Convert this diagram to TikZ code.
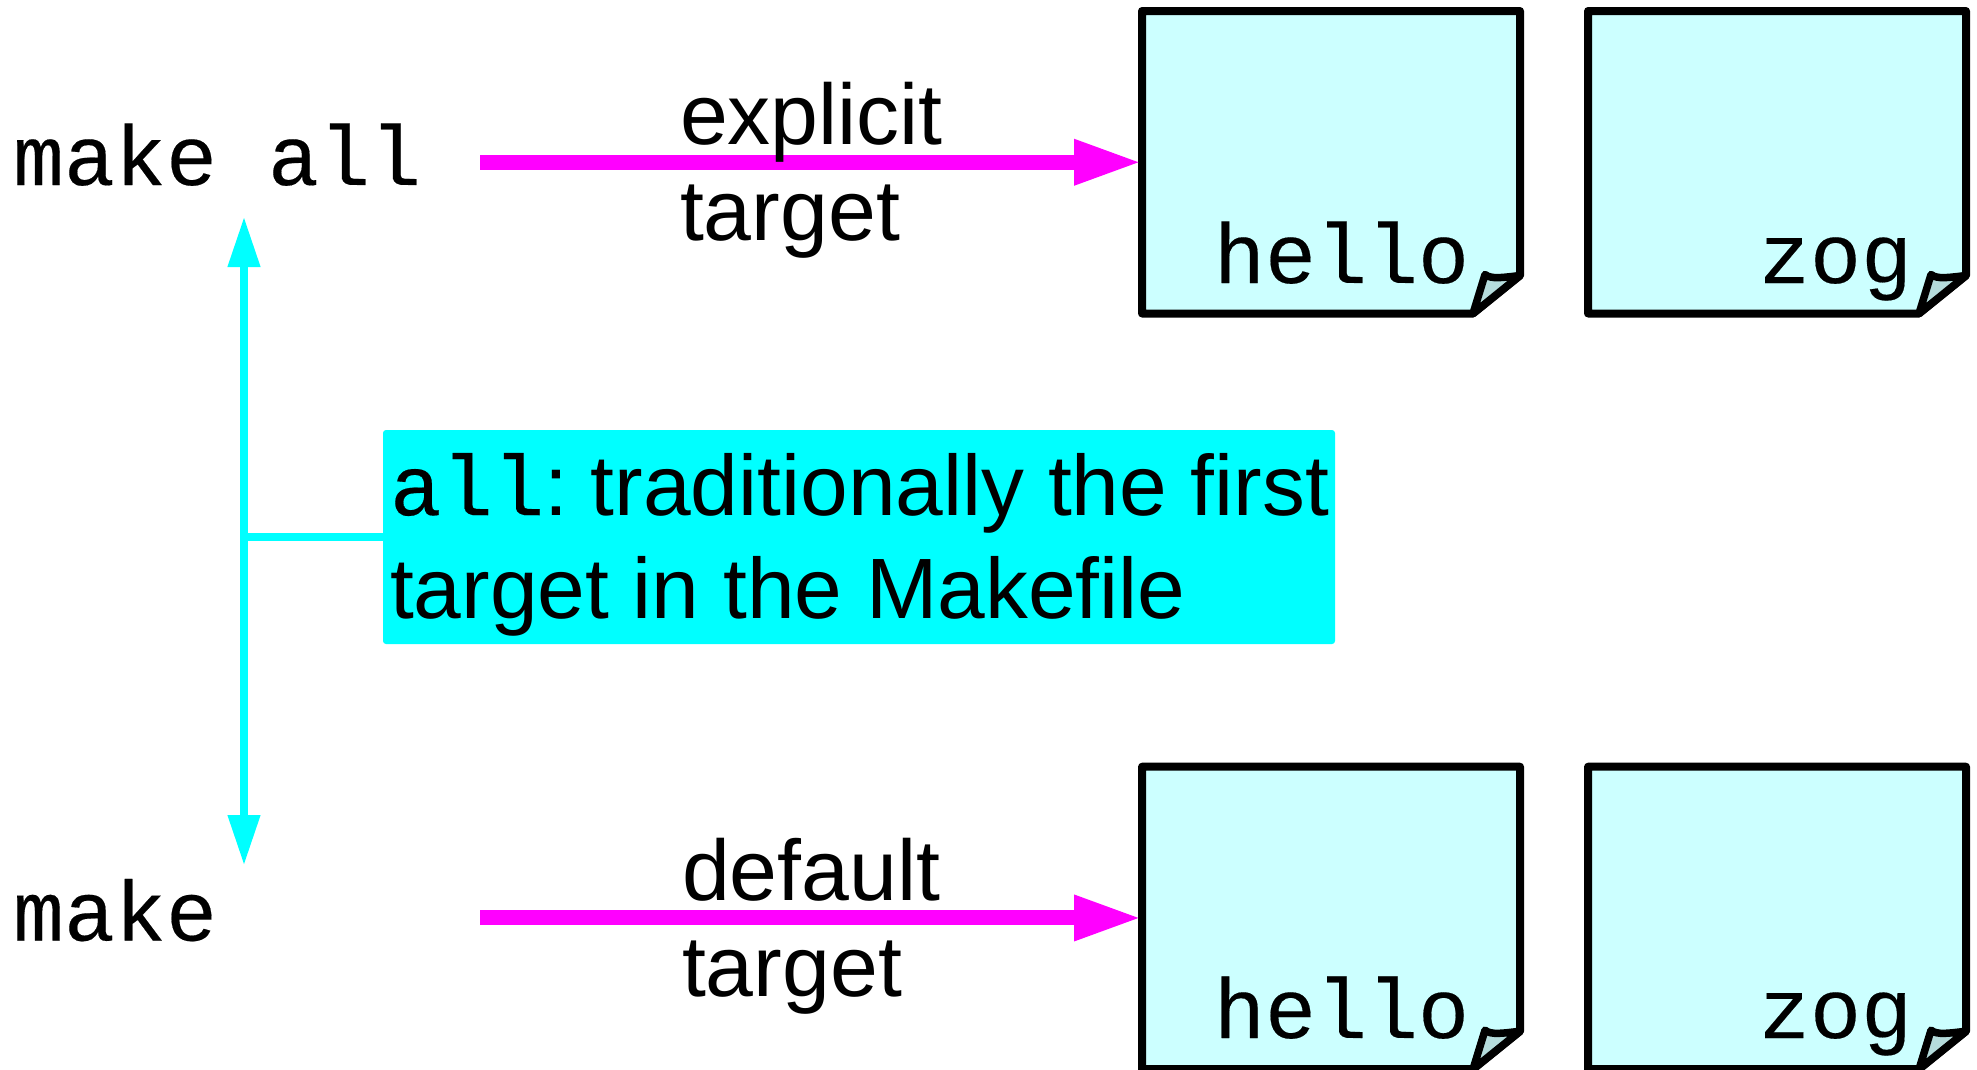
\documentclass[tikz,border=0pt]{standalone}
\usepackage{fontspec}
\setmainfont{Liberation Sans}
\setmonofont[FakeBold=0.2]{Liberation Mono}
\usetikzlibrary{arrows.meta}
\definecolor{sheetfill}{RGB}{204,255,255}
\definecolor{foldfill}{RGB}{181,220,220}
\definecolor{purecyan}{RGB}{0,255,255}
\definecolor{puremagenta}{RGB}{255,0,255}
\tikzset{
  x=1pt,y=-1pt,
  monolabel/.style={font=\fontsize{85}{96}\selectfont\ttfamily,inner sep=0pt,outer sep=0pt,anchor=base west},
  sanslabel/.style={font=\fontsize{86}{96}\selectfont,inner sep=0pt,outer sep=0pt,anchor=north west,align=left},
  notelabel/.style={font=\fontsize{85.7}{103}\selectfont,inner sep=0pt,outer sep=0pt,anchor=west,align=left},
  sheetbox/.style={inner sep=0pt,outer sep=0pt,minimum width=378pt,minimum height=302.5pt,anchor=north west},
  sheetline/.style={draw=black,line width=8pt,line join=round},
  targetarrow/.style={draw=puremagenta,line width=15pt,-{Triangle[length=68pt,width=42pt,fill=puremagenta]}},
  notearrow/.style={draw=purecyan,line width=7.5pt,{Triangle[length=50pt,width=31pt,fill=purecyan]}-{Triangle[length=50pt,width=31pt,fill=purecyan]}},
  noteline/.style={draw=purecyan,line width=7.5pt},
  notebox/.style={fill=purecyan,rounded corners=3pt,inner sep=0pt,outer sep=0pt,minimum width=952pt,minimum height=214pt,anchor=north west},
}
\newcommand{\papersheet}[6]{% name, x, y, label, label x, label baseline y
  \node[sheetbox] (#1) at (#2,#3) {};
  \path[sheetline,fill=sheetfill]
    (#1.north west) -- (#1.north east) -- ([yshift=38pt]#1.south east)
    -- ([xshift=-47pt]#1.south east) -- (#1.south west) -- cycle;
  \path[sheetline,fill=foldfill,line width=7.5pt]
    ([xshift=-47pt]#1.south east)
    -- ([xshift=-35pt,yshift=39pt]#1.south east)
    .. controls ([xshift=-29pt,yshift=34pt]#1.south east) and ([xshift=-17pt,yshift=36pt]#1.south east)
    .. ([yshift=38pt]#1.south east) -- cycle;
  \node[monolabel] (#1label) at (#5,#6) {#4};
}
\begin{document}
\begin{tikzpicture}
\useasboundingbox (0,0) rectangle (1977,1069);
% sheets
\papersheet{helloA}{1142}{11}{hello}{1214}{283}
\papersheet{zogA}{1588}{11}{zog}{1759}{283}
\papersheet{helloB}{1142}{766.7}{hello}{1214}{1038}
\papersheet{zogB}{1588}{766.7}{zog}{1759}{1038}
% commands
\node[monolabel] (makeall) at (13,185) {make all};
\node[monolabel] (makeonly) at (13,940.5) {make};
% arrows
\coordinate (startA) at (480,162);
\coordinate (startB) at (480,918);
\draw[targetarrow] (startA |- helloA.west) -- (helloA.west);
\draw[targetarrow] (startB |- helloB.west) -- (helloB.west);
\node[sanslabel] (explicit) at (680,82) {explicit\\target};
\node[sanslabel] (default) at (682,838) {default\\target};
% note
\node[notebox] (note) at (383,430) {};
\node[notelabel] (notetext) at (390,544.5)
  {{\ttfamily all}:\hspace{-9pt} traditionally the first\\target in the Makefile};
\coordinate (tipup) at (244,217);
\coordinate (tipdown) at (244,865);
\draw[notearrow] (tipup) -- (tipdown);
\draw[noteline] (note.west) -- (note.west -| tipup);
\end{tikzpicture}
\end{document}
